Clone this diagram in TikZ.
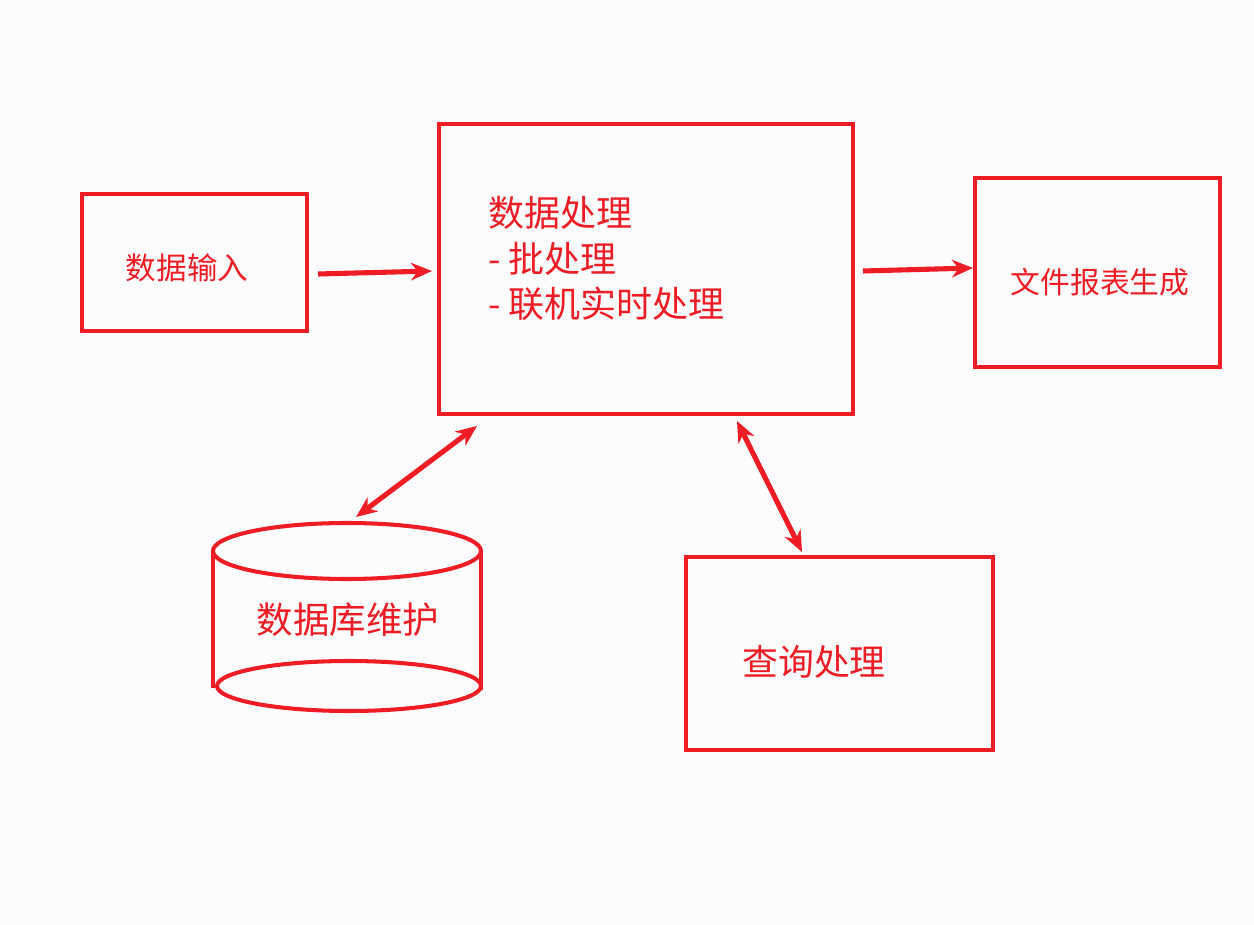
\documentclass[tikz,border=0pt]{standalone}
\usepackage{fontspec}
\newfontfamily\cjk{Noto Sans CJK SC}
\usetikzlibrary{arrows.meta}
\definecolor{rd}{HTML}{EE1C25}
\begin{document}
\begin{tikzpicture}[x=0.02cm,y=-0.02cm,
  box/.style={draw=rd,line width=2.3pt},
  lbl/.style={text=rd,font=\cjk\fontsize{17}{22}\selectfont},
  arr/.style={draw=rd,line width=2.9pt,-{Stealth[length=12pt,width=10pt]}},
  darr/.style={draw=rd,line width=2.9pt,{Stealth[length=12pt,width=10pt]}-{Stealth[length=12pt,width=10pt]}}]
\fill[white!98.8!black] (0,0) rectangle (1254,925);
\useasboundingbox (0,0) rectangle (1254,925);
\draw[box] (82,194) rectangle (307,331);
\node[lbl,font=\cjk\fontsize{17.4}{20}\selectfont] (in) at (187,268) {数据输入};
\draw[box] (439,124) rectangle (853,414);
\node[lbl,align=left,anchor=north west,font=\cjk\fontsize{20.5}{26}\selectfont] (proc) at (482,190) {数据处理\\- 批处理\\- 联机实时处理};
\draw[box] (975,178) rectangle (1220,367);
\node[lbl] (file) at (1100,282) {文件报表生成};
\draw[box] (686,557) rectangle (993,750);
\node[lbl,font=\cjk\fontsize{20.4}{24}\selectfont] (query) at (814,662) {查询处理};
% cylinder
\draw[box] (213,551) -- (213,688);
\draw[box] (481,551) -- (481,690);
\draw[box] (347,551) ellipse [x radius=134,y radius=28];
\draw[box] (349,686) ellipse [x radius=132,y radius=25];
\node[lbl,font=\cjk\fontsize{20.8}{24}\selectfont] (db) at (348,620) {数据库维护};
\coordinate (a1) at (318,274); \coordinate (a2) at (432,271);
\coordinate (b1) at (863,271); \coordinate (b2) at (973,268);
\coordinate (c1) at (477,426); \coordinate (c2) at (356,517);
\coordinate (d1) at (737,421); \coordinate (d2) at (802,552);
\draw[arr] (a1) -- (a2);
\draw[arr] (b1) -- (b2);
\draw[darr] (c1) -- (c2);
\draw[darr] (d1) -- (d2);
\end{tikzpicture}
\end{document}
